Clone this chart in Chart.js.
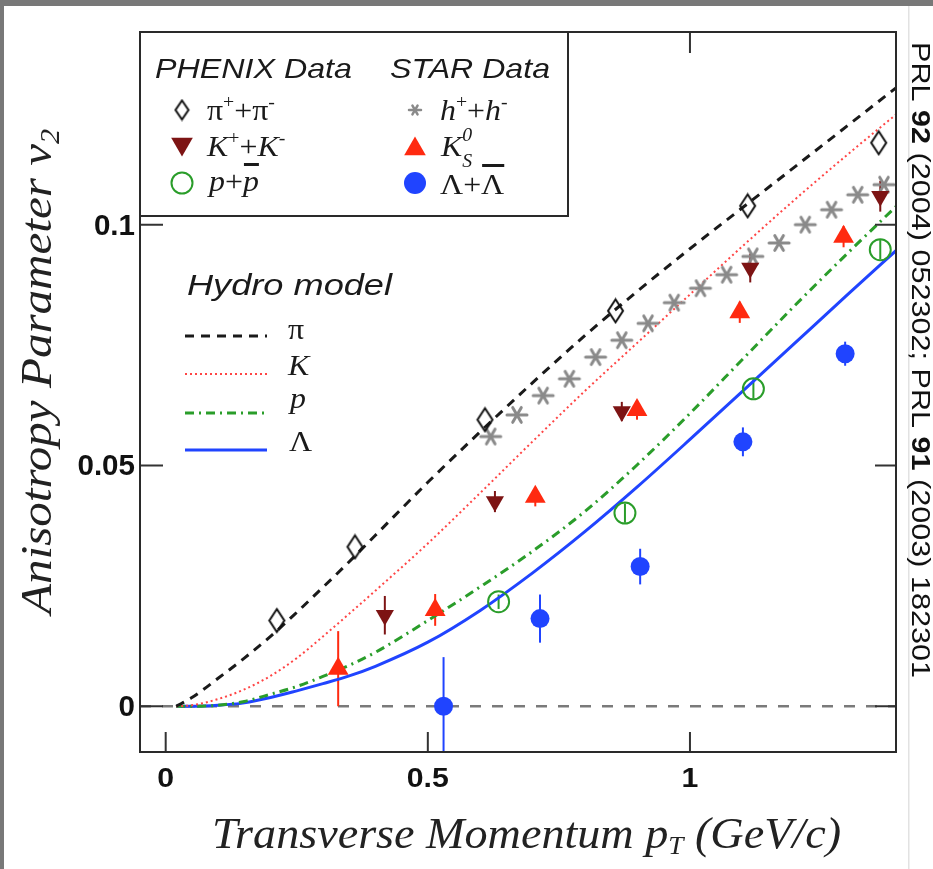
<!DOCTYPE html>
<html>
<head>
<meta charset="utf-8">
<script src="https://cdn.jsdelivr.net/npm/chart.js@4.4.1/dist/chart.umd.min.js"></script>
<style>
  html, body { margin: 0; padding: 0; background: #fff; }
  canvas { display: block; }
</style>
</head>
<body>
<canvas id="grafico" width="933" height="869"></canvas>
<script>
// eixos
const xTicks = [0, 0.5, 1]
const xTickLabels = ['0', '0.5', '1']
const yTicks = [0, 0.05, 0.1]
const yTickLabels = ['0', '0.05', '0.1']

// PHENIX
const piPt = [0.212, 0.361, 0.609, 0.858, 1.110, 1.360]
const piV2 = [0.0178, 0.0331, 0.0595, 0.0821, 0.1039, 0.1170]

const kPt = [0.418, 0.628, 0.870, 1.115, 1.363]
const kV2 = [0.0189, 0.0425, 0.0612, 0.0910, 0.1059]
const kErr = [0.0040, 0.0022, 0.0020, 0.0030, 0.0032]

const protonPt = [0.635, 0.876, 1.121, 1.363]
const protonV2 = [0.0217, 0.0401, 0.0659, 0.0948]
const protonErr = [0.0015, 0.0020, 0.0020, 0.0020]

// STAR
const hPt = [0.62, 0.67, 0.72, 0.77, 0.82, 0.87, 0.92, 0.97, 1.02, 1.07, 1.12, 1.17, 1.22, 1.27, 1.32, 1.37]
const hV2 = [0.0560, 0.0605, 0.0645, 0.0680, 0.0725, 0.0760, 0.0795, 0.0838, 0.0868, 0.0896, 0.0934, 0.0962, 0.1000, 0.1031, 0.1062, 0.1083]

const k0Pt = [0.329, 0.514, 0.705, 0.899, 1.095, 1.293]
const k0V2 = [0.0078, 0.0200, 0.0435, 0.0615, 0.0818, 0.0975]
const k0Err = [0.0078, 0.0033, 0.0020, 0.0020, 0.0022, 0.0022]

const lambdaPt = [0.530, 0.714, 0.905, 1.101, 1.296]
const lambdaV2 = [0.0000, 0.0182, 0.0290, 0.0549, 0.0732]
const lambdaErr = [0.0102, 0.0050, 0.0037, 0.0030, 0.0025]

// modelo hidrodinamico
const hydroPt = [0.02, 0.05, 0.1, 0.15, 0.2, 0.25, 0.3, 0.35, 0.4, 0.5, 0.6, 0.7, 0.8, 0.9, 1.0, 1.1, 1.2, 1.3, 1.4]
const hydroPi = [0, 0.0018, 0.0058, 0.0100, 0.0145, 0.0195, 0.0247, 0.0300, 0.0355, 0.0465, 0.0570, 0.0672, 0.0770, 0.0862, 0.0950, 0.1035, 0.1120, 0.1205, 0.1290]
const hydroK = [0, 0.0002, 0.0015, 0.0035, 0.0063, 0.0100, 0.0145, 0.0192, 0.0240, 0.0338, 0.0443, 0.0550, 0.0655, 0.0755, 0.0855, 0.0955, 0.1052, 0.1145, 0.1235]
const hydroP = [0, 0, 0.0002, 0.0010, 0.0025, 0.0041, 0.0062, 0.0085, 0.0112, 0.0178, 0.0248, 0.0322, 0.0405, 0.0502, 0.0608, 0.0720, 0.0832, 0.0940, 0.1045]
const hydroLambda = [0, 0, 0.0002, 0.0007, 0.0018, 0.0032, 0.0047, 0.0063, 0.0083, 0.0133, 0.0199, 0.0277, 0.0363, 0.0456, 0.0554, 0.0654, 0.0754, 0.0854, 0.0953]

const SERIF = '"Liberation Serif", "Times New Roman", serif'
const SANS = '"Liberation Sans", Arial, sans-serif'

const corPi = '#1a1a1a'
const corK = '#ff4545'
const corP = '#2a9d2a'
const corLambda = '#2044ff'
const corKPhenix = '#7d1414'
const corK0 = '#ff2a10'
const corH = '#8a8a8a'

const pontos = (xs, ys) => xs.map((x, i) => ({ x: x, y: ys[i] }))

// marcadores desenhados a mao
function losango(larg, alt) {
    const c = document.createElement('canvas')
    c.width = larg + 4
    c.height = alt + 4
    const g = c.getContext('2d')
    g.strokeStyle = '#111'
    g.lineWidth = 2
    g.beginPath()
    g.moveTo(c.width / 2, 2)
    g.lineTo(c.width - 2, c.height / 2)
    g.lineTo(c.width / 2, c.height - 2)
    g.lineTo(2, c.height / 2)
    g.closePath()
    g.stroke()
    return c
}

function estrela(r, larg) {
    const c = document.createElement('canvas')
    c.width = 2 * r + 6
    c.height = 2 * r + 6
    const g = c.getContext('2d')
    g.strokeStyle = corH
    g.lineWidth = larg
    g.lineCap = 'round'
    const cx = c.width / 2, cy = c.height / 2
    for (let a = 0; a < 180; a += 60) {
        const rad = a * Math.PI / 180
        const rr = a === 0 ? r : r * 0.85
        g.beginPath()
        g.moveTo(cx - rr * Math.cos(rad), cy - rr * Math.sin(rad))
        g.lineTo(cx + rr * Math.cos(rad), cy + rr * Math.sin(rad))
        g.stroke()
    }
    return c
}

const marcaPi = losango(15, 23)
const marcaH = estrela(10, 3)
const marcaPiLeg = losango(13, 19)
const marcaHLeg = estrela(6, 2.5)

// texto com pedacos (sobrescrito, subscrito, barra)
function larguraPedacos(ctx, lista) {
    let w = 0
    for (const p of lista) {
        ctx.font = p.f
        if (!p.fica) w += ctx.measureText(p.t).width
    }
    return w
}

function desenhaPedacos(ctx, x, y, lista, sx) {
    let cx = x
    for (const p of lista) {
        ctx.font = p.f
        const w = ctx.measureText(p.t).width * sx
        ctx.save()
        ctx.translate(cx, y + (p.dy || 0))
        ctx.scale(sx, 1)
        ctx.fillText(p.t, 0, 0)
        ctx.restore()
        if (p.barra) ctx.fillRect(cx + 1, y + p.barra, w - 1, 3)
        if (!p.fica) cx += w
    }
    return cx - x
}

function escreve(ctx, texto, x, y, fonte, alinha, sx) {
    ctx.font = fonte
    const w = ctx.measureText(texto).width * sx
    let x0 = x
    if (alinha === 'center') x0 = x - w / 2
    if (alinha === 'right') x0 = x - w
    ctx.save()
    ctx.translate(x0, y)
    ctx.scale(sx, 1)
    ctx.textAlign = 'left'
    ctx.fillText(texto, 0, 0)
    ctx.restore()
}

function ajusta(ctx, texto, fonte, largura) {
    ctx.font = fonte
    return largura / ctx.measureText(texto).width
}

function triangulo(ctx, x, y, r, baixo, cor) {
    const s = baixo ? -1 : 1
    ctx.fillStyle = cor
    ctx.beginPath()
    ctx.moveTo(x, y - s * r)
    ctx.lineTo(x + r * 0.866, y + s * r * 0.5)
    ctx.lineTo(x - r * 0.866, y + s * r * 0.5)
    ctx.closePath()
    ctx.fill()
}

function linhaLegenda(ctx, y, cor, traco, larg) {
    ctx.save()
    ctx.strokeStyle = cor
    ctx.lineWidth = larg
    ctx.setLineDash(traco)
    ctx.beginPath()
    ctx.moveTo(185, y)
    ctx.lineTo(267, y)
    ctx.stroke()
    ctx.restore()
}

// fundo, linha do zero, barras de erro, moldura e textos
const moldura = {
    id: 'moldura',
    beforeDraw(chart) {
        const ctx = chart.ctx
        ctx.save()
        ctx.fillStyle = '#fff'
        ctx.fillRect(0, 0, chart.width, chart.height)
        ctx.fillStyle = '#787878'
        ctx.fillRect(0, 0, chart.width, 6)
        ctx.fillRect(0, 0, 4, chart.height)
        ctx.fillStyle = '#e2e2e2'
        ctx.fillRect(908, 6, 1.5, chart.height)
        ctx.restore()
    },
    beforeDatasetsDraw(chart) {
        const ctx = chart.ctx
        const x = chart.scales.x
        const y = chart.scales.y
        const a = chart.chartArea
        ctx.save()
        ctx.beginPath()
        ctx.rect(a.left, a.top, a.right - a.left, a.bottom - a.top)
        ctx.clip()

        // linha do zero
        ctx.strokeStyle = '#7a7a7a'
        ctx.lineWidth = 2.5
        ctx.setLineDash([11, 11])
        ctx.beginPath()
        ctx.moveTo(a.left, y.getPixelForValue(0))
        ctx.lineTo(a.right, y.getPixelForValue(0))
        ctx.stroke()
        ctx.setLineDash([])

        const erros = [
            [kPt, kV2, kErr, corKPhenix],
            [protonPt, protonV2, protonErr, corP],
            [k0Pt, k0V2, k0Err, corK0],
            [lambdaPt, lambdaV2, lambdaErr, corLambda]
        ]
        ctx.lineWidth = 2
        erros.forEach(e => {
            ctx.strokeStyle = e[3]
            for (let i = 0; i < e[0].length; i++) {
                const px = x.getPixelForValue(e[0][i])
                ctx.beginPath()
                ctx.moveTo(px, y.getPixelForValue(e[1][i] - e[2][i]))
                ctx.lineTo(px, y.getPixelForValue(e[1][i] + e[2][i]))
                ctx.stroke()
            }
        })
        ctx.restore()
    },
    afterDraw(chart) {
        const ctx = chart.ctx
        const x = chart.scales.x
        const y = chart.scales.y
        const a = chart.chartArea
        ctx.save()

        // ticks para dentro
        ctx.strokeStyle = '#333'
        ctx.lineWidth = 2
        xTicks.forEach(v => {
            const px = x.getPixelForValue(v)
            ctx.beginPath()
            ctx.moveTo(px, a.bottom)
            ctx.lineTo(px, a.bottom - 20)
            ctx.moveTo(px, a.top)
            ctx.lineTo(px, a.top + 21)
            ctx.stroke()
        })
        yTicks.forEach(v => {
            const py = y.getPixelForValue(v)
            ctx.beginPath()
            ctx.moveTo(a.left, py)
            ctx.lineTo(a.left + 23, py)
            ctx.moveTo(a.right, py)
            ctx.lineTo(a.right - 21, py)
            ctx.stroke()
        })

        // moldura
        ctx.strokeStyle = '#2a2a2a'
        ctx.lineWidth = 2
        ctx.strokeRect(a.left, a.top, a.right - a.left, a.bottom - a.top)

        // rotulos
        ctx.fillStyle = '#111'
        ctx.textBaseline = 'alphabetic'
        xTicks.forEach((v, i) => {
            escreve(ctx, xTickLabels[i], x.getPixelForValue(v), 787, 'bold 28px ' + SANS, 'center', 1.08)
        })
        yTicks.forEach((v, i) => {
            escreve(ctx, yTickLabels[i], 135, y.getPixelForValue(v) + 10, 'bold 29px ' + SANS, 'right', 1.02)
        })

        // titulo eixo x
        const tituloX = [
            { t: 'Transverse Momentum ', f: 'italic 44px ' + SERIF },
            { t: 'p', f: 'italic 44px ' + SERIF },
            { t: 'T', f: 'italic 26px ' + SERIF, dy: 6 },
            { t: ' (GeV/c)', f: 'italic 44px ' + SERIF }
        ]
        ctx.fillStyle = '#222'
        desenhaPedacos(ctx, 212, 848, tituloX, 629 / larguraPedacos(ctx, tituloX))

        // titulo eixo y
        const tituloY = [
            { t: 'Anisotropy Parameter v', f: 'italic 44px ' + SERIF },
            { t: '2', f: 'italic 27px ' + SERIF, dy: 8 }
        ]
        ctx.save()
        ctx.translate(51, 614)
        ctx.rotate(-Math.PI / 2)
        desenhaPedacos(ctx, 0, 0, tituloY, 485 / larguraPedacos(ctx, tituloY))
        ctx.restore()

        // referencia na lateral
        const ref = [
            { t: 'PRL ', f: '25px ' + SANS },
            { t: '92', f: 'bold 25px ' + SANS },
            { t: ' (2004) 052302; PRL ', f: '25px ' + SANS },
            { t: '91', f: 'bold 25px ' + SANS },
            { t: ' (2003) 182301', f: '25px ' + SANS }
        ]
        ctx.fillStyle = '#111'
        ctx.save()
        ctx.translate(912, 42)
        ctx.rotate(Math.PI / 2)
        desenhaPedacos(ctx, 0, 0, ref, 636 / larguraPedacos(ctx, ref))
        ctx.restore()

        // caixa da legenda dos dados
        ctx.fillStyle = '#fff'
        ctx.fillRect(a.left + 1, a.top + 1, 568 - a.left - 1, 216 - a.top - 1)
        ctx.strokeStyle = '#2a2a2a'
        ctx.lineWidth = 2
        ctx.strokeRect(a.left, a.top, 568 - a.left, 216 - a.top)

        ctx.fillStyle = '#1a1a1a'
        const fPhenix = 'italic 28px ' + SANS
        escreve(ctx, 'PHENIX Data', 155, 78, fPhenix, 'left', ajusta(ctx, 'PHENIX Data', fPhenix, 197))
        escreve(ctx, 'STAR Data', 390, 78, fPhenix, 'left', ajusta(ctx, 'STAR Data', fPhenix, 160))

        const n = '29px ' + SERIF
        const it = 'italic 29px ' + SERIF
        const sup = '18px ' + SERIF
        const supIt = 'italic 18px ' + SERIF
        const sx = 1.1

        // PHENIX
        ctx.drawImage(marcaPiLeg, 182 - marcaPiLeg.width / 2, 110 - marcaPiLeg.height / 2)
        triangulo(ctx, 182, 144, 12.5, true, corKPhenix)
        ctx.strokeStyle = corP
        ctx.lineWidth = 2
        ctx.beginPath()
        ctx.arc(182, 183, 10.5, 0, Math.PI * 2)
        ctx.stroke()

        ctx.fillStyle = '#1a1a1a'
        desenhaPedacos(ctx, 207, 120, [
            { t: 'π', f: n }, { t: '+', f: sup, dy: -12 }, { t: '+', f: n }, { t: 'π', f: n }, { t: '-', f: sup, dy: -12 }
        ], sx)
        desenhaPedacos(ctx, 207, 156, [
            { t: 'K', f: it }, { t: '+', f: sup, dy: -12 }, { t: '+', f: n }, { t: 'K', f: it }, { t: '-', f: sup, dy: -12 }
        ], sx)
        desenhaPedacos(ctx, 209, 191, [
            { t: 'p', f: it }, { t: '+', f: n }, { t: 'p', f: it, barra: -28 }
        ], sx)

        // STAR
        ctx.drawImage(marcaHLeg, 415 - marcaHLeg.width / 2, 110 - marcaHLeg.height / 2)
        triangulo(ctx, 415, 149, 12.5, false, corK0)
        ctx.fillStyle = corLambda
        ctx.beginPath()
        ctx.arc(415, 183, 11, 0, Math.PI * 2)
        ctx.fill()

        ctx.fillStyle = '#1a1a1a'
        desenhaPedacos(ctx, 440, 120, [
            { t: 'h', f: it }, { t: '+', f: sup, dy: -12 }, { t: '+', f: n }, { t: 'h', f: it }, { t: '-', f: sup, dy: -12 }
        ], sx)
        desenhaPedacos(ctx, 441, 156, [
            { t: 'K', f: it }, { t: '0', f: supIt, dy: -15, fica: true }, { t: 'S', f: supIt, dy: 11 }
        ], sx)
        desenhaPedacos(ctx, 440, 194, [
            { t: 'Λ', f: n }, { t: '+', f: n }, { t: 'Λ', f: n, barra: -30 }
        ], sx)

        // legenda do modelo
        const fHydro = 'italic 30px ' + SANS
        escreve(ctx, 'Hydro model', 187, 295, fHydro, 'left', ajusta(ctx, 'Hydro model', fHydro, 205))
        linhaLegenda(ctx, 336, corPi, [9, 7], 3)
        linhaLegenda(ctx, 374, corK, [2, 3], 2)
        linhaLegenda(ctx, 413, corP, [9, 5, 2, 5], 3)
        linhaLegenda(ctx, 450, corLambda, [], 3)
        ctx.fillStyle = '#1a1a1a'
        escreve(ctx, 'π', 288, 339, '29px ' + SERIF, 'left', 1.1)
        escreve(ctx, 'K', 288, 375, 'italic 29px ' + SERIF, 'left', 1.1)
        escreve(ctx, 'p', 290, 408, 'italic 29px ' + SERIF, 'left', 1.1)
        escreve(ctx, 'Λ', 289, 451, '29px ' + SERIF, 'left', 1.1)

        ctx.restore()
    }
}

const grafico = new Chart(document.getElementById('grafico').getContext('2d'), {
    type: 'scatter',
    data: {
        datasets: [
            {
                label: 'STAR Lambda',
                data: pontos(lambdaPt, lambdaV2),
                pointStyle: 'circle',
                pointRadius: 9.5,
                backgroundColor: corLambda,
                borderColor: corLambda,
                borderWidth: 0
            },
            {
                label: 'STAR K0s',
                data: pontos(k0Pt, k0V2),
                pointStyle: 'triangle',
                pointRadius: 12,
                backgroundColor: corK0,
                borderColor: corK0,
                borderWidth: 0
            },
            {
                label: 'PHENIX p',
                data: pontos(protonPt, protonV2),
                pointStyle: 'circle',
                pointRadius: 10.5,
                backgroundColor: 'rgba(255,255,255,0)',
                borderColor: corP,
                borderWidth: 2
            },
            {
                label: 'PHENIX K',
                data: pontos(kPt, kV2),
                pointStyle: 'triangle',
                rotation: 180,
                pointRadius: 10.5,
                backgroundColor: corKPhenix,
                borderColor: corKPhenix,
                borderWidth: 0
            },
            {
                label: 'PHENIX pi',
                data: pontos(piPt, piV2),
                pointStyle: marcaPi,
                pointRadius: 10
            },
            {
                label: 'STAR h',
                data: pontos(hPt, hV2),
                pointStyle: marcaH,
                pointRadius: 10
            },
            {
                label: 'Hydro pi',
                data: pontos(hydroPt, hydroPi),
                showLine: true,
                pointRadius: 0,
                borderColor: corPi,
                borderWidth: 3,
                borderDash: [9, 7],
                cubicInterpolationMode: 'monotone'
            },
            {
                label: 'Hydro K',
                data: pontos(hydroPt, hydroK),
                showLine: true,
                pointRadius: 0,
                borderColor: corK,
                borderWidth: 2,
                borderDash: [2, 3],
                cubicInterpolationMode: 'monotone'
            },
            {
                label: 'Hydro p',
                data: pontos(hydroPt, hydroP),
                showLine: true,
                pointRadius: 0,
                borderColor: corP,
                borderWidth: 3,
                borderDash: [9, 5, 2, 5],
                cubicInterpolationMode: 'monotone'
            },
            {
                label: 'Hydro Lambda',
                data: pontos(hydroPt, hydroLambda),
                showLine: true,
                pointRadius: 0,
                borderColor: corLambda,
                borderWidth: 3,
                cubicInterpolationMode: 'monotone'
            }
        ]
    },
    options: {
        responsive: false,
        animation: false,
        devicePixelRatio: 1,
        layout: { padding: { left: 140, top: 32, right: 37, bottom: 117 } },
        scales: {
            x: { type: 'linear', display: false, min: -0.049, max: 1.393 },
            y: { type: 'linear', display: false, min: -0.0095, max: 0.140 }
        },
        plugins: {
            legend: { display: false },
            tooltip: { enabled: false }
        }
    },
    plugins: [moldura]
})
</script>
</body>
</html>
